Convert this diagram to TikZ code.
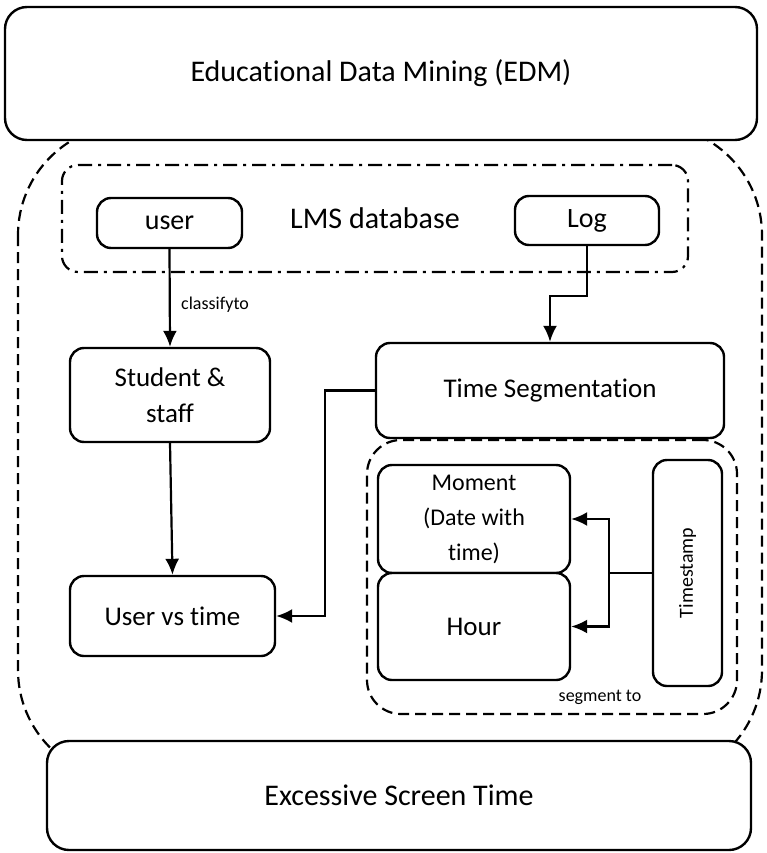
\documentclass[tikz,border=0pt]{standalone}
\usepackage{fontspec}
\setmainfont[Ligatures=NoCommon]{Carlito}
\usetikzlibrary{arrows.meta, positioning}

\begin{document}
\begin{tikzpicture}[
    x=1pt, y=-1pt,
    box/.style={draw, line width=2.4pt, rounded corners=14pt, fill=white, align=center,
                inner sep=0pt, font=\fontsize{27}{36}\selectfont},
    bigbox/.style={box, rounded corners=22pt, font=\fontsize{30}{36}\selectfont},
    dashbox/.style={draw, line width=2.2pt, dash pattern=on 11pt off 6pt, inner sep=0pt},
    conn/.style={draw, -{Latex[length=16pt, width=14pt]}, line width=2.2pt},
    note/.style={inner sep=0pt, font=\fontsize{18}{20}\selectfont}
]
    \useasboundingbox (0,0) rectangle (767,853);

    % outer dashed region behind the two big boxes
    \draw[line width=2.2pt, dash pattern=on 11pt off 6pt, rounded corners=110pt] (18,125) rectangle (762,780);

    % top and bottom
    \node[bigbox, minimum width=752, minimum height=133] (edm) at (381,73.5) {Educational Data Mining (EDM)};
    \node[bigbox, minimum width=704, minimum height=109] (screen) at (399,795.5) {Excessive Screen Time};

    % LMS database
    \node[draw, line width=2.2pt, dash pattern=on 14pt off 6pt on 3pt off 6pt, rounded corners=16pt,
          minimum width=626, minimum height=107, inner sep=0pt, font=\fontsize{30}{36}\selectfont] (lms) at (375,218.5) {LMS database};
    \node[box, font=\fontsize{28}{34}\selectfont, minimum width=145, minimum height=50] (user) at (169.5,223) {user};
    \node[box, font=\fontsize{28}{34}\selectfont, minimum width=144, minimum height=49] (log) at (587,220.5) {Log};

    % left column
    \node[box, minimum width=200, minimum height=94] (staff) at (170,395) {Student \&\\staff};
    \node[box, minimum width=205, minimum height=80] (usertime) at (172.5,616) {User vs time};

    % right column
    \node[box, minimum width=348, minimum height=95] (timeseg) at (550,390.5) {Time Segmentation};
    \node[dashbox, rounded corners=34pt, minimum width=370, minimum height=274] (seg) at (552,577) {};
    \node[box, font=\fontsize{24}{35}\selectfont, minimum width=192, minimum height=108] (moment) at (474,519) {Moment\\(Date with\\time)};
    \node[box, minimum width=192, minimum height=107] (hour) at (474,626.5) {Hour};
    \node[box, font=\fontsize{20}{24}\selectfont, minimum width=69, minimum height=226] (stamp) at (687.5,573) {\rotatebox{90}{Timestamp}};

    % labels
    \node[note, anchor=west] (classify) at (181,305) {classifyto};
    \node[note] (segment) at (600,697) {segment to};

    % connectors
    \draw[conn] (user.south) -- (staff.north);
    \draw[conn] (log.south) -- ++(0,50) -| (timeseg.north);
    \draw[conn] (staff.south) -- (usertime.north);
    \draw[conn] (timeseg.west) -- ++(-50,0) |- (usertime.east);
    \draw[line width=2.2pt] (stamp.west) -- ++(-43,0) coordinate (fork);
    \draw[conn] (fork) |- (moment.east);
    \draw[conn] (fork) |- (hour.east);
\end{tikzpicture}
\end{document}
